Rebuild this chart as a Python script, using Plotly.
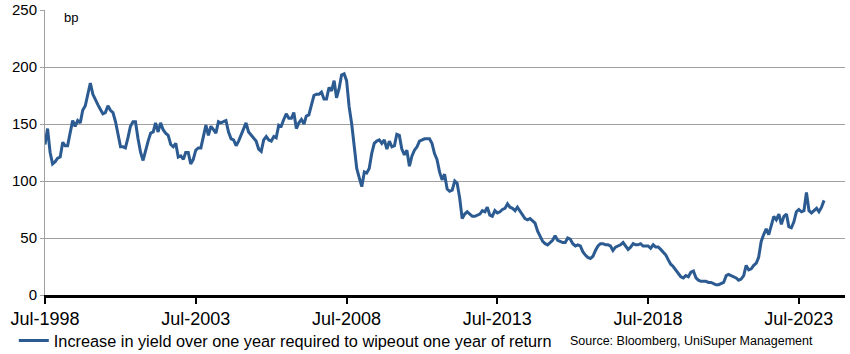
import pandas as pd
import plotly.graph_objects as go

start_month = "1998-07-01"
values = [
    132, 146, 125, 115, 117, 120, 121, 134, 131, 131,
    142, 153, 148, 153, 151, 162, 166, 176, 186, 176,
    171, 167, 163, 159, 160, 166, 162, 160, 152, 140,
    130, 130, 129, 138, 148, 152, 152, 137, 125, 118,
    127, 135, 142, 143, 151, 143, 151, 145, 142, 140,
    132, 130, 133, 121, 122, 119, 125, 125, 115, 119,
    127, 129, 129, 140, 149, 140, 148, 145, 142, 152,
    151, 152, 153, 143, 137, 136, 131, 135, 140, 145,
    151, 143, 140, 138, 135, 128, 126, 136, 139, 136,
    135, 139, 138, 149, 148, 154, 159, 155, 155, 160,
    146, 151, 154, 150, 157, 158, 166, 175, 176, 176,
    178, 172, 172, 182, 179, 188, 173, 181, 193, 194,
    188, 165, 150, 132, 111, 103, 95, 108, 107, 111,
    124, 133, 135, 136, 133, 136, 128, 135, 130, 131,
    141, 140, 128, 123, 127, 113, 122, 127, 130, 135,
    136, 137, 137, 137, 133, 124, 119, 108, 101, 106,
    93, 91, 92, 100, 98, 85, 67, 71, 73, 71,
    69, 69, 70, 71, 74, 73, 77, 70, 69, 74,
    72, 73, 75, 76, 80, 77, 76, 74, 77, 74,
    70, 67, 66, 67, 65, 63, 56, 52, 47, 45,
    44, 46, 48, 52, 48, 47, 46, 46, 50, 49,
    45, 43, 44, 43, 38, 35, 33, 32, 34, 39,
    43, 45, 45, 44, 44, 43, 39, 42, 43, 44,
    46, 43, 40, 42, 45, 44, 44, 45, 43, 43,
    43, 41, 44, 42, 42, 40, 37, 35, 31, 27,
    25, 22, 18, 16, 15, 17, 16, 20, 21, 15,
    13, 12, 12, 12, 11, 11, 10, 9, 9, 10,
    11, 17, 18, 17, 16, 15, 13, 14, 17, 26,
    22, 23, 26, 28, 33, 47, 53, 58, 53, 62,
    69, 66, 71, 62, 69, 71, 60, 59, 64, 73,
    75, 73, 74, 90, 74, 72, 74, 76, 73, 77,
    83,
]
dates = pd.date_range(start_month, periods=len(values), freq="MS")

tick_dates = ["1998-07-01", "2003-07-01", "2008-07-01", "2013-07-01", "2018-07-01", "2023-07-01"]
tick_labels = ["Jul-1998", "Jul-2003", "Jul-2008", "Jul-2013", "Jul-2018", "Jul-2023"]
y_ticks = [0, 50, 100, 150, 200, 250]

series_name = "Increase in yield over one year required to wipeout one year of return"
source_text = "Source: Bloomberg, UniSuper Management"
unit_text = "bp"

LINE = "#2C5B92"
FONT = "Liberation Sans, Arial, sans-serif"

fig = go.Figure()
fig.add_trace(go.Scatter(
    x=dates, y=values, mode="lines", name=series_name,
    line=dict(color=LINE, width=3),
))

fig.update_layout(
    width=850, height=354,
    margin=dict(l=45, r=5, t=10, b=59, autoexpand=False),
    paper_bgcolor="white", plot_bgcolor="white",
    showlegend=True,
    legend=dict(
        orientation="h", x=-0.039, y=-0.161, xanchor="left", yanchor="middle",
        font=dict(family=FONT, size=16.3, color="#000000"),
        bgcolor="rgba(0,0,0,0)", itemwidth=30,
    ),
    xaxis=dict(
        type="date", range=["1998-07-01", "2025-01-10"],
        tickmode="array", tickvals=tick_dates, ticktext=tick_labels,
        ticks="outside", ticklen=6, tickwidth=2, tickcolor="#000000",
        showline=True, linecolor="#000000", linewidth=2.5,
        showgrid=False, zeroline=False,
        tickfont=dict(family=FONT, size=18, color="#000000"),
    ),
    yaxis=dict(
        range=[0, 250], tickvals=y_ticks,
        ticks="outside", ticklen=4, tickcolor="#A0A0A0",
        showline=True, linecolor="#A0A0A0", linewidth=1,
        showgrid=True, gridcolor="#A0A0A0", gridwidth=1,
        zeroline=False,
        tickfont=dict(family=FONT, size=15, color="#000000"),
    ),
)

fig.add_annotation(
    text=unit_text, xref="paper", yref="paper", x=0.021, y=0.972,
    xanchor="left", yanchor="middle", showarrow=False,
    font=dict(family=FONT, size=13, color="#000000"),
)
fig.add_annotation(
    text=source_text, xref="paper", yref="paper", x=0.654, y=-0.161,
    xanchor="left", yanchor="middle", showarrow=False,
    font=dict(family=FONT, size=12.5, color="#000000"),
)

fig.write_html("out.html")
